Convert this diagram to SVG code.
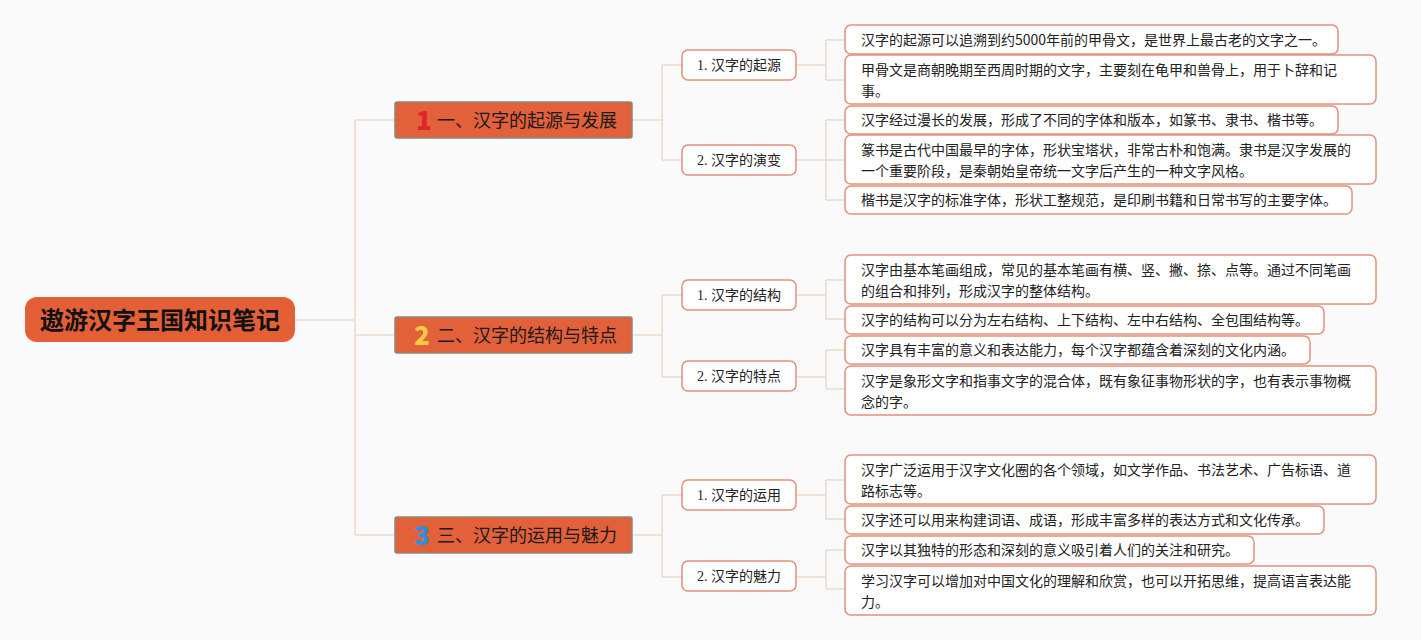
<svg xmlns="http://www.w3.org/2000/svg" width="1421" height="640" viewBox="0 0 1421 640">
<style>
.bg{fill:#fafafa}
.conn{fill:none;stroke:#ecdccd;stroke-width:1.6}
.root{fill:#e55f36}
.roott{font-family:"Noto Sans CJK SC",sans-serif;font-size:24px;font-weight:bold;fill:#111}
.l1{fill:#e2603a;stroke:#8c8878;stroke-width:1.5}
.l1t{font-family:"Noto Sans CJK SC",sans-serif;font-size:18px;fill:#1a1a1a}
.num{font-family:"Noto Sans CJK SC",sans-serif;font-size:26px;font-weight:900}
.l2{fill:#fff;stroke:#e2907c;stroke-width:1.5}
.l2t{font-family:"Liberation Serif","Noto Sans CJK SC",serif;font-size:14px;fill:#222}
.lf{fill:#fff;stroke:#e2907c;stroke-width:1.5}
.lft{font-family:"Noto Sans CJK SC",sans-serif;font-size:14px;fill:#222}
</style>
<rect class="bg" x="0" y="0" width="1421" height="640"/>
<g id="connectors">
<path class="conn" d="M295 320H355M355 120V535M355 120H395M355 335H395M355 535H395"/>
<path class="conn" d="M632 120H662M662 65V160M662 65H682M662 160H682"/>
<path class="conn" d="M632 335H662M662 295V377M662 295H682M662 377H682"/>
<path class="conn" d="M632 535H662M662 495V577M662 495H682M662 577H682"/>
<path class="conn" d="M796 65H826M826 40V80M826 40H845M826 80H845"/>
<path class="conn" d="M796 160H826M826 120V200M826 120H845M826 160H845M826 200H845"/>
<path class="conn" d="M796 295H826M826 280V319M826 280H845M826 319H845"/>
<path class="conn" d="M796 377H826M826 350V389M826 350H845M826 389H845"/>
<path class="conn" d="M796 495H826M826 480V519M826 480H845M826 519H845"/>
<path class="conn" d="M796 577H826M826 550V589M826 550H845M826 589H845"/>
</g>
<g id="root">
<rect class="root" x="25" y="297" width="270" height="45" rx="12"/>
<text class="roott" x="160" y="328.5" text-anchor="middle">遨游汉字王国知识笔记</text>
</g>
<g id="s1">
<rect class="l1" x="395" y="102" width="237" height="36" rx="2"/>
<text class="num" x="416" y="130" fill="#e0242a">1</text>
<text class="l1t" x="437" y="126.5">一、汉字的起源与发展</text>
</g>
<g id="s2">
<rect class="l1" x="395" y="317" width="237" height="36" rx="2"/>
<text class="num" x="414" y="345" fill="#f7ca45">2</text>
<text class="l1t" x="437" y="341.5">二、汉字的结构与特点</text>
</g>
<g id="s3">
<rect class="l1" x="395" y="517" width="237" height="36" rx="2"/>
<text class="num" x="414" y="545" fill="#2b8fdc">3</text>
<text class="l1t" x="437" y="541.5">三、汉字的运用与魅力</text>
</g>
<g id="s1a"><rect class="l2" x="682" y="50" width="114" height="30" rx="6"/><text class="l2t" x="739" y="70" text-anchor="middle">1. 汉字的起源</text></g>
<g id="s1b"><rect class="l2" x="682" y="145" width="114" height="30" rx="6"/><text class="l2t" x="739" y="165" text-anchor="middle">2. 汉字的演变</text></g>
<g id="s2a"><rect class="l2" x="682" y="280" width="114" height="30" rx="6"/><text class="l2t" x="739" y="300" text-anchor="middle">1. 汉字的结构</text></g>
<g id="s2b"><rect class="l2" x="682" y="361" width="114" height="30" rx="6"/><text class="l2t" x="739" y="381" text-anchor="middle">2. 汉字的特点</text></g>
<g id="s3a"><rect class="l2" x="682" y="480" width="114" height="30" rx="6"/><text class="l2t" x="739" y="500" text-anchor="middle">1. 汉字的运用</text></g>
<g id="s3b"><rect class="l2" x="682" y="561" width="114" height="30" rx="6"/><text class="l2t" x="739" y="581" text-anchor="middle">2. 汉字的魅力</text></g>
<g id="leaf1"><rect class="lf" x="845" y="25" width="493" height="29" rx="6"/><text class="lft" x="861" y="45">汉字的起源可以追溯到约5000年前的甲骨文，是世界上最古老的文字之一。</text></g>
<g id="leaf2"><rect class="lf" x="845" y="55" width="531" height="49" rx="6"/><text class="lft" x="861" y="75">甲骨文是商朝晚期至西周时期的文字，主要刻在龟甲和兽骨上，用于卜辞和记</text><text class="lft" x="861" y="96">事。</text></g>
<g id="leaf3"><rect class="lf" x="845" y="106" width="493" height="28" rx="6"/><text class="lft" x="861" y="125">汉字经过漫长的发展，形成了不同的字体和版本，如篆书、隶书、楷书等。</text></g>
<g id="leaf4"><rect class="lf" x="845" y="135" width="531" height="49" rx="6"/><text class="lft" x="861" y="155">篆书是古代中国最早的字体，形状宝塔状，非常古朴和饱满。隶书是汉字发展的</text><text class="lft" x="861" y="176">一个重要阶段，是秦朝始皇帝统一文字后产生的一种文字风格。</text></g>
<g id="leaf5"><rect class="lf" x="845" y="186" width="507" height="28" rx="6"/><text class="lft" x="861" y="205">楷书是汉字的标准字体，形状工整规范，是印刷书籍和日常书写的主要字体。</text></g>
<g id="leaf6"><rect class="lf" x="845" y="255" width="531" height="49" rx="6"/><text class="lft" x="861" y="275">汉字由基本笔画组成，常见的基本笔画有横、竖、撇、捺、点等。通过不同笔画</text><text class="lft" x="861" y="296">的组合和排列，形成汉字的整体结构。</text></g>
<g id="leaf7"><rect class="lf" x="845" y="306" width="479" height="28" rx="6"/><text class="lft" x="861" y="325">汉字的结构可以分为左右结构、上下结构、左中右结构、全包围结构等。</text></g>
<g id="leaf8"><rect class="lf" x="845" y="336" width="465" height="28" rx="6"/><text class="lft" x="861" y="355">汉字具有丰富的意义和表达能力，每个汉字都蕴含着深刻的文化内涵。</text></g>
<g id="leaf9"><rect class="lf" x="845" y="366" width="531" height="49" rx="6"/><text class="lft" x="861" y="386">汉字是象形文字和指事文字的混合体，既有象征事物形状的字，也有表示事物概</text><text class="lft" x="861" y="407">念的字。</text></g>
<g id="leaf10"><rect class="lf" x="845" y="455" width="531" height="49" rx="6"/><text class="lft" x="861" y="475">汉字广泛运用于汉字文化圈的各个领域，如文学作品、书法艺术、广告标语、道</text><text class="lft" x="861" y="496">路标志等。</text></g>
<g id="leaf11"><rect class="lf" x="845" y="506" width="479" height="28" rx="6"/><text class="lft" x="861" y="525">汉字还可以用来构建词语、成语，形成丰富多样的表达方式和文化传承。</text></g>
<g id="leaf12"><rect class="lf" x="845" y="536" width="409" height="28" rx="6"/><text class="lft" x="861" y="555">汉字以其独特的形态和深刻的意义吸引着人们的关注和研究。</text></g>
<g id="leaf13"><rect class="lf" x="845" y="566" width="531" height="49" rx="6"/><text class="lft" x="861" y="586">学习汉字可以增加对中国文化的理解和欣赏，也可以开拓思维，提高语言表达能</text><text class="lft" x="861" y="607">力。</text></g>
</svg>
